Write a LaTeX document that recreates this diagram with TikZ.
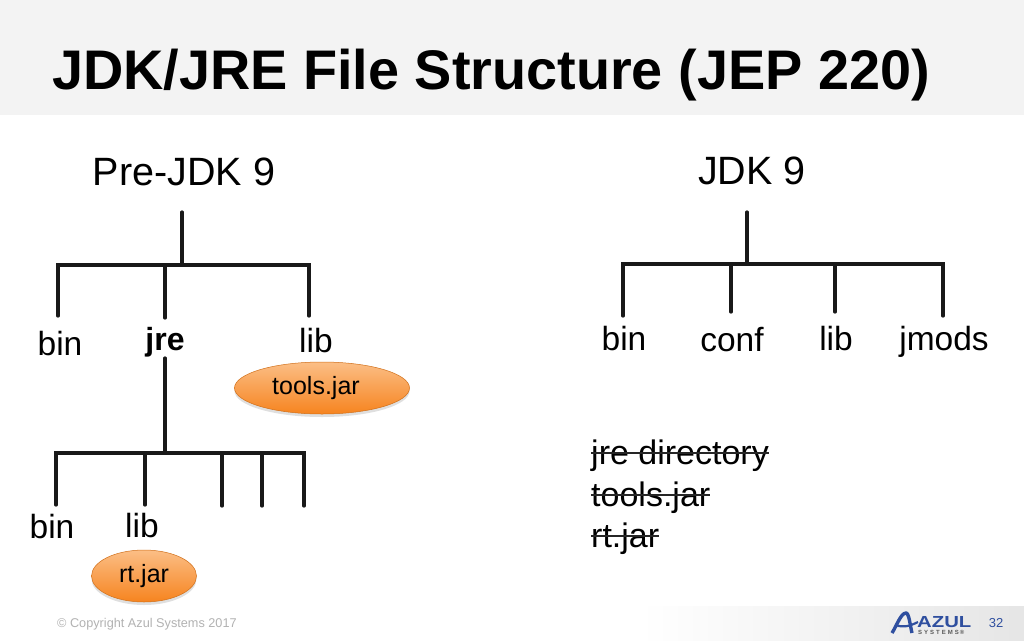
\documentclass[tikz,border=0pt]{standalone}
\usepackage{fontspec}
\setmainfont{Liberation Sans}
\usetikzlibrary{shapes.geometric,shadows}
\definecolor{bandgray}{HTML}{F3F3F3}
\definecolor{azulblue}{HTML}{2F4F9F}
\definecolor{jartop}{HTML}{FBBE86}
\definecolor{jarmid}{HTML}{FA9F4C}
\definecolor{jarbottom}{HTML}{F6841F}
\tikzset{
  tree/.style={line width=3.2pt,line cap=round,black!90},
  strike/.style={line width=2pt,black!85},
  big/.style={font=\fontsize{39.5}{39.5}\selectfont,inner sep=0pt,anchor=base},
  dirname/.style={font=\fontsize{33.5}{33.5}\selectfont,inner sep=0pt,anchor=base},
  gone/.style={font=\fontsize{34}{34}\selectfont,inner sep=0pt,anchor=base west},
  jar/.style={ellipse,draw=jarbottom!85!black,line width=0.5pt,top color=jartop,middle color=jarmid,bottom color=jarbottom,
    drop shadow={shadow xshift=0pt,shadow yshift=-3pt,opacity=.25},minimum height=52pt,inner sep=0pt,
    font=\fontsize{25}{25}\selectfont}
}
\begin{document}
\begin{tikzpicture}[x=1pt,y=-1pt]
\useasboundingbox (0,0) rectangle (1024,640);
\fill[white] (0,0) rectangle (1024,640);
% title and footer bands
\fill[bandgray] (0,0) rectangle (1024,115);
\shade[left color=white,right color=black!10] (640,606) rectangle (1024,640);
\node[font=\fontsize{55.8}{55.8}\selectfont\bfseries,inner sep=0pt,anchor=base west] (title) at (52,89) {JDK/JRE File Structure (JEP 220)};
% headings
\node[big] (prejdk) at (184,185) {Pre-JDK 9};
\node[big] (jdknine) at (752,184) {JDK 9};
% old tree
\coordinate (oldroot) at (182,212);
\coordinate (oldjoin) at (182,265);
\coordinate (oldleft) at (58,265);
\coordinate (oldmid) at (165,265);
\coordinate (oldright) at (309,265);
\coordinate (oldbin) at (58,316);
\coordinate (oldjre) at (165,318);
\coordinate (oldlib) at (309,316);
\draw[tree] (oldroot) -- (oldjoin);
\draw[tree] (oldbin) -- (oldleft) -- (oldright) -- (oldlib);
\draw[tree] (oldmid) -- (oldjre);
\node[dirname] (binA) at (60,355) {bin};
\node[dirname,font=\fontsize{32}{32}\selectfont\bfseries] (jre) at (165,350) {jre};
\node[dirname] (libA) at (316,352) {lib};
\node[jar,minimum width=175pt] (tools) at (322,388) {tools.jar\hspace*{12pt}};
% jre tree
\coordinate (jretop) at (165,358);
\coordinate (jrejoin) at (165,453);
\coordinate (jreleft) at (56,453);
\coordinate (jrelib) at (145,453);
\coordinate (jrec) at (222,453);
\coordinate (jred) at (262,453);
\coordinate (jreright) at (304,453);
\coordinate (jreleftb) at (56,505);
\coordinate (jrelibb) at (145,505);
\coordinate (jrecb) at (222,506);
\coordinate (jredb) at (262,506);
\coordinate (jrerightb) at (304,506);
\draw[tree] (jretop) -- (jrejoin);
\draw[tree] (jreleftb) -- (jreleft) -- (jreright) -- (jrerightb);
\draw[tree] (jrelib) -- (jrelibb);
\draw[tree] (jrec) -- (jrecb);
\draw[tree] (jred) -- (jredb);
\node[dirname] (binB) at (52,538) {bin};
\node[dirname] (libB) at (142,537) {lib};
\node[jar,minimum width=105pt] (rtjar) at (144,576) {rt.jar};
% new tree
\coordinate (newroot) at (747,212);
\coordinate (newjoin) at (747,264);
\coordinate (newleft) at (623,264);
\coordinate (newconf) at (731,264);
\coordinate (newlib) at (835,264);
\coordinate (newright) at (943,264);
\coordinate (newbinb) at (623,316);
\coordinate (newconfb) at (731,312);
\coordinate (newlibb) at (835,312);
\coordinate (newrightb) at (943,316);
\draw[tree] (newroot) -- (newjoin);
\draw[tree] (newbinb) -- (newleft) -- (newright) -- (newrightb);
\draw[tree] (newconf) -- (newconfb);
\draw[tree] (newlib) -- (newlibb);
\node[dirname] (binC) at (624,350) {bin};
\node[dirname] (conf) at (732,351) {conf};
\node[dirname] (libC) at (836,350) {lib};
\node[dirname] (jmods) at (944,350) {jmods};
% removed items
\node[gone] (gonejre) at (591,464) {jre directory};
\node[gone] (gonetools) at (591,506) {tools.jar};
\node[gone] (gonert) at (591,547) {rt.jar};
\draw[strike] ([yshift=11pt]gonejre.base west) -- ([yshift=11pt]gonejre.base east);
\draw[strike] ([yshift=11pt]gonetools.base west) -- ([yshift=11pt]gonetools.base east);
\draw[strike] ([yshift=11pt]gonert.base west) -- ([yshift=11pt]gonert.base east);
% footer
\node[font=\fontsize{12.7}{12.7}\selectfont,text=black!30,inner sep=0pt,anchor=base west] (copyright) at (57,627) {© Copyright Azul Systems 2017};
\node[font=\fontsize{13}{13}\selectfont,text=azulblue,inner sep=0pt] (pagenum) at (996,623) {32};
\draw[azulblue,line width=3.4pt,line join=round] (892,633) .. controls (897,625) and (901,613) .. (906,613) .. controls (909,613) and (910,625) .. (912,633);
\draw[azulblue,line width=2.2pt] (896,625) .. controls (903,628) and (910,626) .. (918,622);
\node[font=\fontsize{16}{16}\selectfont\bfseries,text=azulblue,inner sep=0pt,anchor=base west] (azul) at (917,627.5) {\scalebox{1.27}[1]{AZUL}};
\node[font=\fontsize{6}{6}\selectfont\bfseries,text=black!65,inner sep=0pt,anchor=base west] (systems) at (918,634.5) {S\,\,Y\,\,S\,\,T\,\,E\,\,M\,\,S\,®};
\end{tikzpicture}
\end{document}
